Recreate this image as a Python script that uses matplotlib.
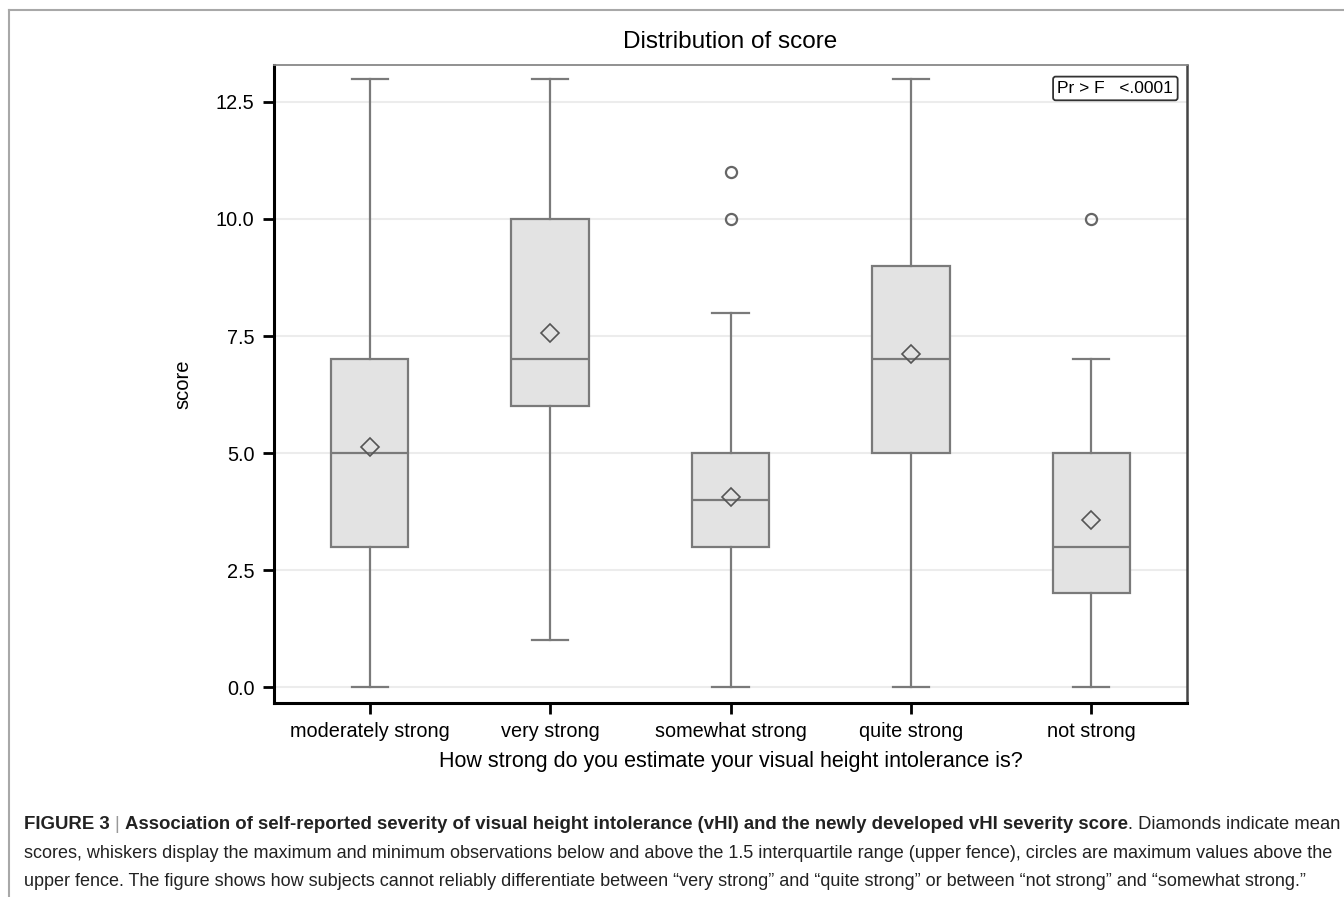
import matplotlib
matplotlib.use('Agg')
import matplotlib.pyplot as plt
from matplotlib.lines import Line2D

plt.rcParams['font.family'] = ['Liberation Sans', 'DejaVu Sans']

groups   = ['moderately strong', 'very strong', 'somewhat strong', 'quite strong', 'not strong']
w_low    = [0, 1, 0, 0, 0]
q1       = [3, 6, 3, 5, 2]
medians  = [5, 7, 4, 7, 3]
q3       = [7, 10, 5, 9, 5]
w_high   = [13, 13, 8, 13, 7]
means    = [5.13, 7.56, 4.06, 7.12, 3.57]
outliers = [[], [], [10, 11], [], [10]]
yticks   = [0.0, 2.5, 5.0, 7.5, 10.0, 12.5]

stats = []
for i in range(len(groups)):
  stats.append({'label': groups[i], 'whislo': w_low[i], 'q1': q1[i], 'med': medians[i],
                'q3': q3[i], 'whishi': w_high[i], 'mean': means[i], 'fliers': outliers[i]})

fig = plt.figure(figsize=(13.44, 8.97), dpi=100)
ax = fig.add_axes([274/1344, 1 - 703/897, (1187 - 274)/1344, (703 - 65)/897])

edge = '#7a7a7a'
ax.bxp(stats, positions=range(len(groups)), widths=0.43, patch_artist=True, showmeans=True,
       boxprops=dict(facecolor='#e3e3e3', edgecolor=edge, linewidth=1.6),
       medianprops=dict(color=edge, linewidth=1.6),
       whiskerprops=dict(color=edge, linewidth=1.6),
       capprops=dict(color=edge, linewidth=1.6), capwidths=0.2,
       meanprops=dict(marker='D', markerfacecolor='none', markeredgecolor='#555555',
                      markersize=9.5, markeredgewidth=1.2),
       flierprops=dict(marker='o', markerfacecolor='none', markeredgecolor='#666666',
                       markersize=8, markeredgewidth=1.6))

ax.set_xlim(-0.53, 4.53)
ax.set_ylim(-0.34, 13.29)
ax.set_yticks(yticks)
ax.set_yticklabels(['%.1f' % v for v in yticks])
ax.yaxis.grid(True, color='#ececec', linewidth=1.5)
ax.set_axisbelow(True)
ax.tick_params(axis='both', direction='out', length=8, width=2, labelsize=14.3, pad=6)
ax.spines['left'].set_linewidth(2.2)
ax.spines['bottom'].set_linewidth(2.2)
ax.spines['top'].set_color('#888888')
ax.spines['top'].set_linewidth(1.3)
ax.spines['right'].set_color('#444444')
ax.spines['right'].set_linewidth(1.8)

ax.set_title('Distribution of score', fontsize=17.5, pad=12)
ax.set_xlabel('How strong do you estimate your visual height intolerance is?', fontsize=15.5, labelpad=7)
ax.set_ylabel('score', fontsize=14.5, labelpad=17)

ax.text(0.985, 0.975, 'Pr > F   <.0001', transform=ax.transAxes, ha='right', va='top', fontsize=12.5,
        bbox=dict(boxstyle='round,pad=0.25,rounding_size=0.15', facecolor='white', edgecolor='#333333', linewidth=1.3))

# outer frame lines
fig.add_artist(Line2D([9/1344, 1], [1 - 10/897, 1 - 10/897], transform=fig.transFigure, color='#a8a8a8', lw=1.5))
fig.add_artist(Line2D([9/1344, 9/1344], [0, 1 - 10/897], transform=fig.transFigure, color='#a8a8a8', lw=1.5))

# caption
cap_size = 13.0
cap_color = '#222222'
fig.canvas.draw()
renderer = fig.canvas.get_renderer()

def put_segments(x, y, segments):
  for txt, weight, col, size in segments:
    t = fig.text(x, y, txt, fontsize=size, fontweight=weight, color=col, va='baseline')
    bb = t.get_window_extent(renderer=renderer)
    x = x + bb.width / 1344

put_segments(24/1344, 1 - 829/897, [('FIGURE 3 ', 'bold', cap_color, 13.4), ('| ', 'normal', '#999999', 13.4),
             ('Association of self-reported severity of visual height intolerance (vHI) and the newly developed vHI severity score', 'bold', cap_color, 13.4),
             ('. Diamonds indicate mean', 'normal', cap_color, 13.2)])
fig.text(24/1344, 1 - 858/897, 'scores, whiskers display the maximum and minimum observations below and above the 1.5 interquartile range (upper fence), circles are maximum values above the',
         fontsize=cap_size, color=cap_color, va='baseline')
fig.text(24/1344, 1 - 886/897, 'upper fence. The figure shows how subjects cannot reliably differentiate between \u201cvery strong\u201d and \u201cquite strong\u201d or between \u201cnot strong\u201d and \u201csomewhat strong.\u201d',
         fontsize=cap_size, color=cap_color, va='baseline')

plt.savefig('out.png', dpi=100)
